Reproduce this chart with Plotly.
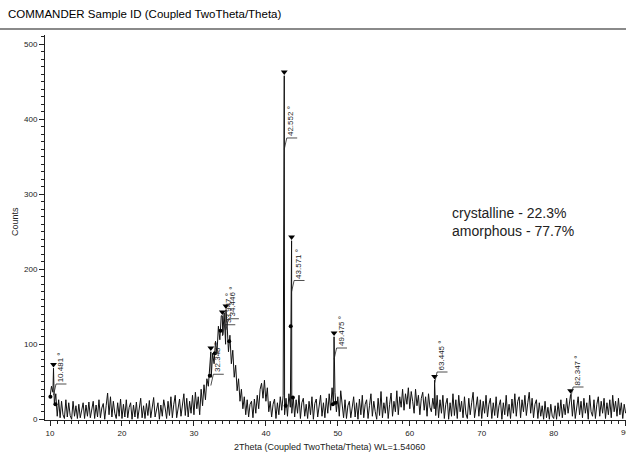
import plotly.graph_objects as go

# ---------------- data ----------------
two_theta_start = 10.0
two_theta_step = 0.2
background_counts = [
    30, 44, 36, 20, 34, 4, 26, 2, 24, 6,
    1, 26, 3, 22, 5, 0, 24, 4, 18, 1,
    20, 2, 14, 22, 1, 19, 4, 23, 2, 16,
    24, 1, 19, 3, 26, 2, 15, 21, 0, 18,
    35, 6, 30, 3, 24, 8, 1, 22, 4, 27,
    1, 20, 3, 26, 2, 16, 22, 0, 19, 3,
    23, 1, 15, 28, 2, 18, 1, 21, 5, 25,
    2, 17, 29, 3, 14, 22, 0, 19, 4, 26,
    15, 1, 24, 5, 30, 2, 20, 32, 2, 17,
    27, 4, 22, 34, 5, 28, 3, 24, 8, 32,
    6, 36, 14, 30, 6, 40, 18, 46, 26, 54,
    44, 70, 56, 88, 74, 104, 88, 124, 106, 138,
    112, 142, 100, 128, 90, 112, 74, 92, 56, 72,
    38, 54, 24, 40, 14, 30, 6, 26, 3, 20,
    24, 2, 27, 8, 32, 14, 40, 48, 28, 52,
    24, 42, 10, 24, 3, 20, 27, 1, 22, 6,
    30, 12, 32, 6, 28, 4, 34, 16, 8, 30,
    3, 26, 8, 32, 1, 22, 28, 4, 20, 1,
    24, 6, 30, 0, 21, 27, 3, 18, 32, 4,
    22, 2, 28, 8, 34, 12, 42, 18, 36, 10,
    30, 4, 38, 14, 2, 26, 1, 18, 24, 2,
    16, 30, 3, 22, 0, 27, 6, 32, 2, 20,
    26, 1, 18, 34, 4, 24, 10, 0, 28, 5,
    37, 2, 22, 8, 30, 1, 20, 35, 4, 24,
    10, 38, 6, 30, 16, 40, 12, 34, 20, 42,
    14, 37, 24, 8, 40, 18, 32, 6, 28, 36,
    12, 30, 4, 34, 16, 10, 28, 14, 5, 32,
    2, 26, 8, 32, 1, 20, 28, 0, 22, 4,
    34, 5, 26, 1, 32, 10, 24, 2, 30, 7,
    1, 28, 6, 22, 36, 2, 20, 30, 4, 26,
    1, 24, 8, 32, 3, 20, 28, 1, 22, 5,
    30, 2, 18, 26, 0, 22, 6, 32, 4, 20,
    1, 27, 8, 34, 4, 24, 30, 2, 26, 10,
    32, 5, 22, 36, 8, 28, 2, 20, 26, 1,
    22, 4, 18, 0, 24, 2, 16, 0, 20, 4,
    1, 18, 0, 22, 4, 26, 2, 20, 6, 28,
    8, 22, 32, 4, 26, 1, 20, 30, 6, 24,
    2, 28, 8, 22, 0, 32, 10, 4, 26, 1,
    20, 30, 4, 24, 8, 28, 1, 22, 6, 26,
    2, 32, 10, 24, 4, 28, 6, 22, 1, 20, 8,
]

peak_positions = [10.481, 32.348, 33.947, 34.446, 42.552, 43.571, 49.475, 63.445, 82.347]
peak_counts = [68, 90, 138, 146, 458, 238, 110, 52, 33]
peak_labels = ["10.481 °", "32.348 °", "33.947 °", "34.446 °", "42.552 °",
               "43.571 °", "49.475 °", "63.445 °", "82.347 °"]
leader_start_counts = [32, 45, 111, 119, 360, 170, 80, 48, 28]

dot_positions = [10.05, 10.75, 32.2, 32.9, 33.7, 34.9, 42.75, 43.45, 43.75, 49.3, 49.7]
dot_counts = [30, 20, 58, 88, 118, 104, 18, 124, 29, 20, 22]

x_tick_values = [10, 20, 30, 40, 50, 60, 70, 80, 90]
y_tick_values = [0, 100, 200, 300, 400, 500]

title_text = "COMMANDER Sample ID (Coupled TwoTheta/Theta)"
x_title = "2Theta (Coupled TwoTheta/Theta) WL=1.54060"
y_title = "Counts"
note_lines = ["crystalline - 22.3%", "amorphous - 77.7%"]

# ---------------- build series ----------------
bg_x = [two_theta_start + two_theta_step * i for i in range(len(background_counts))]
pts = sorted(list(zip(bg_x, background_counts)) + list(zip(peak_positions, peak_counts)))
xs = [p[0] for p in pts]
ys = [p[1] for p in pts]

FONT = "Arial, Liberation Sans, sans-serif"
fig = go.Figure()
fig.add_trace(go.Scatter(x=xs, y=ys, mode="lines",
                         line=dict(color="#111", width=1), showlegend=False,
                         hoverinfo="skip"))
fig.add_trace(go.Scatter(x=dot_positions, y=dot_counts, mode="markers",
                         marker=dict(color="black", size=4), showlegend=False))
fig.add_trace(go.Scatter(x=peak_positions, y=[c + 5 for c in peak_counts], mode="markers",
                         marker=dict(color="black", size=6, symbol="triangle-down"),
                         showlegend=False))

shapes = []
annotations = []
for xp, lbl, ys0 in zip(peak_positions, peak_labels, leader_start_counts):
    yh = ys0 + 15
    shapes.append(dict(type="line", xref="x", yref="y", x0=xp, y0=ys0, x1=xp + 0.35, y1=yh,
                       line=dict(color="#222", width=0.8)))
    shapes.append(dict(type="line", xref="x", yref="y", x0=xp + 0.35, y0=yh, x1=xp + 1.8, y1=yh,
                       line=dict(color="#222", width=0.8)))
    annotations.append(dict(x=xp + 0.95, y=yh, xref="x", yref="y", text=lbl, textangle=-90,
                            showarrow=False, xanchor="center", yanchor="bottom",
                            font=dict(family=FONT, size=8, color="#222")))

# title underline
shapes.append(dict(type="line", xref="paper", yref="paper", x0=-0.08, x1=1.0,
                   y0=1 + 6 / 385, y1=1 + 6 / 385, line=dict(color="#8a8a8a", width=2)))

annotations.append(dict(x=(450 - 45) / 581, y=(420 - 222) / 385, xref="paper", yref="paper",
                        xanchor="left", yanchor="middle", showarrow=False, align="left",
                        text="<br>".join(note_lines),
                        font=dict(family=FONT, size=14, color="#222")))
annotations.append(dict(x=(329 - 45) / 581, y=-27 / 385, xref="paper", yref="paper",
                        text=x_title, showarrow=False, xanchor="center", yanchor="middle",
                        font=dict(family=FONT, size=9, color="#222")))
annotations.append(dict(x=-30 / 581, y=(420 - 222) / 385, xref="paper", yref="paper",
                        text=y_title, textangle=-90, showarrow=False, xanchor="center",
                        yanchor="middle", font=dict(family=FONT, size=9, color="#222")))
annotations.append(dict(x=90, y=0, xref="x", yref="paper", text="90", showarrow=False,
                        xanchor="center", yanchor="top", yshift=-6,
                        font=dict(family=FONT, size=8, color="#222")))

fig.update_layout(
    width=626, height=453,
    margin=dict(l=45, r=0, t=35, b=33),
    paper_bgcolor="white", plot_bgcolor="white",
    title=dict(text=title_text, x=8 / 626, xanchor="left", xref="container",
               y=1 - 14 / 453, yanchor="middle", yref="container",
               font=dict(family=FONT, size=11.5, color="black")),
    shapes=shapes, annotations=annotations,
    xaxis=dict(range=[9.3, 90.05], tickvals=x_tick_values, ticks="outside", ticklen=5,
               tickcolor="#222", showline=True, linecolor="#222", linewidth=1,
               showgrid=False, zeroline=False,
               tickfont=dict(family=FONT, size=8, color="#222"),
               minor=dict(dtick=1, ticks="outside", ticklen=3, tickcolor="#222", showgrid=False)),
    yaxis=dict(range=[-1, 512.3], tickvals=y_tick_values, ticks="outside", ticklen=5,
               tickcolor="#222", showline=True, linecolor="#222", linewidth=1,
               showgrid=False, zeroline=False,
               tickfont=dict(family=FONT, size=8, color="#222"),
               minor=dict(dtick=10, ticks="outside", ticklen=3, tickcolor="#222", showgrid=False)),
)

fig.write_html("out.html", config={"displayModeBar": False},
               post_script="document.body.style.margin='0px';")
